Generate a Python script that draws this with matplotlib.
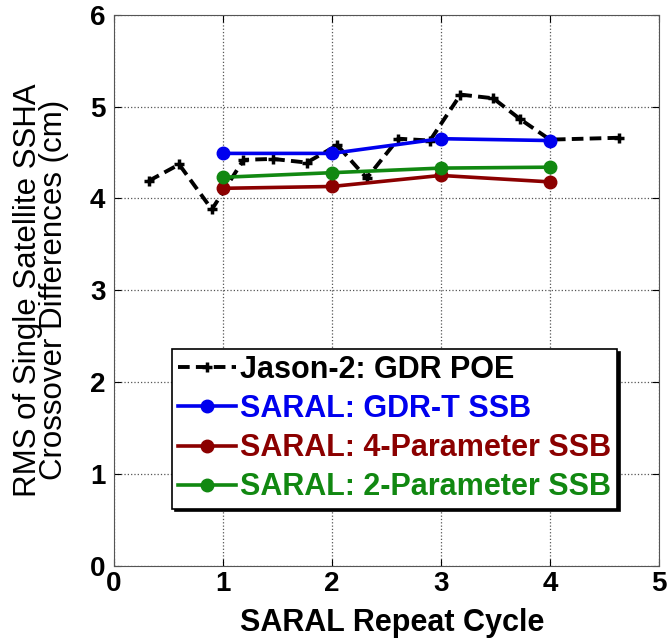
import matplotlib.pyplot as plt

plt.rcParams['font.family'] = ['Liberation Sans', 'DejaVu Sans']
plt.rcParams['font.weight'] = 'bold'

# Jason-2 cycles expressed in SARAL repeat-cycle units
jason_cycle = [0.32, 0.60, 0.90, 1.19, 1.46, 1.77, 2.05, 2.32, 2.61, 2.90,
               3.18, 3.48, 3.73, 4.00, 4.63]
jason_rms = [4.19, 4.37, 3.88, 4.42, 4.43, 4.39, 4.58, 4.22, 4.65, 4.63,
             5.13, 5.09, 4.86, 4.64, 4.66]

saral_cycle = [1, 2, 3, 4]
saral_gdrt = [4.49, 4.49, 4.65, 4.63]
saral_4par = [4.11, 4.13, 4.25, 4.18]
saral_2par = [4.23, 4.28, 4.33, 4.34]

fig = plt.figure(figsize=(6.69, 6.38), dpi=100)
ax = fig.add_axes([0.170, 0.113, 0.815, 0.864])

ax.plot(jason_cycle, jason_rms, color='black', linestyle='--', dashes=(3, 1.6),
        linewidth=2.8, marker='+', markersize=7, markeredgewidth=2.5,
        label='Jason-2: GDR POE')
ax.plot(saral_cycle, saral_gdrt, color='#0000ee', linewidth=2.6, marker='o',
        markersize=9, label='SARAL: GDR-T SSB')
ax.plot(saral_cycle, saral_4par, color='#8b0000', linewidth=2.6, marker='o',
        markersize=9, label='SARAL: 4-Parameter SSB')
ax.plot(saral_cycle, saral_2par, color='#118811', linewidth=2.6, marker='o',
        markersize=9, label='SARAL: 2-Parameter SSB')

ax.set_xlim(0, 5)
ax.set_ylim(0, 6)
ax.set_xticks([0, 1, 2, 3, 4, 5])
ax.set_yticks([0, 1, 2, 3, 4, 5, 6])
ax.tick_params(direction='in', labelsize=20, length=5, top=True, right=True)
ax.tick_params(axis='y', pad=6)
ax.grid(True, linestyle=':', color='#555555', linewidth=0.9)
for sp in ax.spines.values():
    sp.set_color('#555555')

ax.set_xlabel('SARAL Repeat Cycle', fontsize=22, fontweight='bold')
ax.xaxis.set_label_coords(0.51, -0.076)
ax.set_ylabel('RMS of Single Satellite SSHA\nCrossover Differences (cm)',
              fontsize=22.5, fontweight='normal', linespacing=0.84)
ax.yaxis.set_label_coords(-0.082, 0.5)

leg = ax.legend(loc='lower left', bbox_to_anchor=(0.107, 0.104), fontsize=22,
                handlelength=1.9, handletextpad=0.13, borderpad=0.2,
                labelspacing=0.3, borderaxespad=0, fancybox=False,
                framealpha=1, edgecolor='black',
                shadow={'color': 'black', 'alpha': 1})
leg.get_frame().set_linewidth(1.2)
for txt, line in zip(leg.get_texts(), leg.get_lines()):
    txt.set_color(line.get_color())
    txt.set_fontweight('bold')

fig.savefig('out.png', dpi=100)
